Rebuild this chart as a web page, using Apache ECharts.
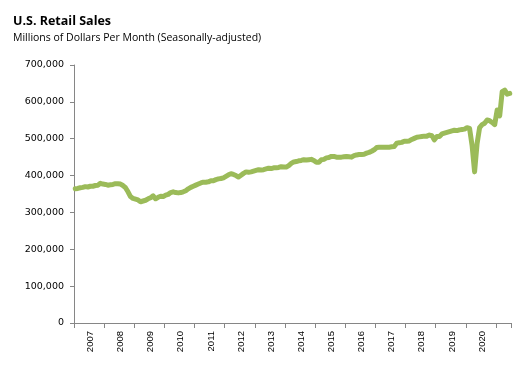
<!DOCTYPE html>
<html>
<head>
<meta charset="utf-8">
<script src="https://cdn.jsdelivr.net/npm/echarts@6/dist/echarts.min.js"></script>
<style>html,body{margin:0;padding:0;background:#fff;}#c{width:522px;height:373px;}</style>
</head>
<body>
<div id="c"></div>
<script>
const years = [2007,2008,2009,2010,2011,2012,2013,2014,2015,2016,2017,2018,2019,2020,2021];
// Monthly values in thousands of millions of dollars
const v2007 = [364,365,367,368,370,369,371,371,373,374,379,377];
const v2008 = [376,374,375,376,378,378,377,373,367,356,343,338];
const v2009 = [336,334,329,331,333,337,340,345,337,341,344,343];
const v2010 = [347,349,354,356,354,353,354,356,359,364,368,371];
const v2011 = [374,377,380,382,382,383,386,386,389,391,392,394];
const v2012 = [398,402,405,403,400,396,401,406,410,409,410,412];
const v2013 = [414,416,415,416,418,420,419,421,421,422,424,423];
const v2014 = [423,427,433,437,438,440,441,443,442,443,444,441];
const v2015 = [436,436,443,444,448,449,452,452,450,450,450,451];
const v2016 = [452,451,450,454,456,457,457,458,461,463,466,470];
const v2017 = [476,477,477,477,477,477,478,479,488,489,490,493];
const v2018 = [493,494,498,501,504,505,506,507,507,510,508,497];
const v2019 = [506,506,513,515,517,519,521,523,522,524,525,526];
const v2020 = [530,528,482,410,487,530,538,542,551,549,544,538];
const v2021 = [578,562,628,632,621,623];
const yTicks = [0,100000,200000,300000,400000,500000,600000,700000];

const monthly = [v2007,v2008,v2009,v2010,v2011,v2012,v2013,v2014,v2015,v2016,v2017,v2018,v2019,v2020,v2021];
const cats = [];
const vals = [];
monthly.forEach((arr, yi) => {
  arr.forEach((v, mi) => {
    cats.push(years[yi] + '-' + String(mi + 1).padStart(2, '0'));
    vals.push(v * 1000);
  });
});

const chart = echarts.init(document.getElementById('c'), null, {renderer: 'canvas'});
chart.setOption({
  animation: false,
  backgroundColor: '#fff',
  title: {
    text: 'U.S. Retail Sales',
    subtext: 'Millions of Dollars Per Month (Seasonally-adjusted)',
    left: 8,
    top: 10,
    itemGap: 5,
    textStyle: {fontFamily: 'Open Sans', fontSize: 12.5, fontWeight: 'bold', color: '#000'},
    subtextStyle: {fontFamily: 'Open Sans', fontSize: 10.5, color: '#000'}
  },
  grid: {left: 74, right: 11, top: 65, bottom: 50, containLabel: false},
  xAxis: {
    type: 'category',
    data: cats,
    boundaryGap: true,
    axisLine: {lineStyle: {color: '#868686', width: 1}},
    axisTick: {
      show: true, length: 5, inside: false,
      interval: (i) => i % 12 === 0,
      lineStyle: {color: '#868686'}
    },
    axisLabel: {
      interval: (i) => i % 12 === 6,
      rotate: 90,
      margin: 8,
      fontFamily: 'Liberation Sans',
      fontSize: 9.5,
      color: '#000',
      formatter: (val) => val.slice(0, 4)
    },
    splitLine: {show: false}
  },
  yAxis: {
    type: 'value',
    min: yTicks[0],
    max: yTicks[yTicks.length - 1],
    interval: 100000,
    axisLine: {show: true, lineStyle: {color: '#868686', width: 1}},
    axisTick: {show: true, length: 4, lineStyle: {color: '#868686'}},
    axisLabel: {
      margin: 10,
      fontFamily: 'DejaVu Sans',
      fontSize: 9.5,
      color: '#000',
      formatter: (v) => v.toLocaleString('en-US')
    },
    splitLine: {show: false}
  },
  series: [{
    type: 'line',
    data: vals,
    showSymbol: false,
    symbol: 'none',
    lineStyle: {color: '#9BBB59', width: 5, join: 'round', cap: 'round'},
    smooth: false
  }]
});
</script>
</body>
</html>
